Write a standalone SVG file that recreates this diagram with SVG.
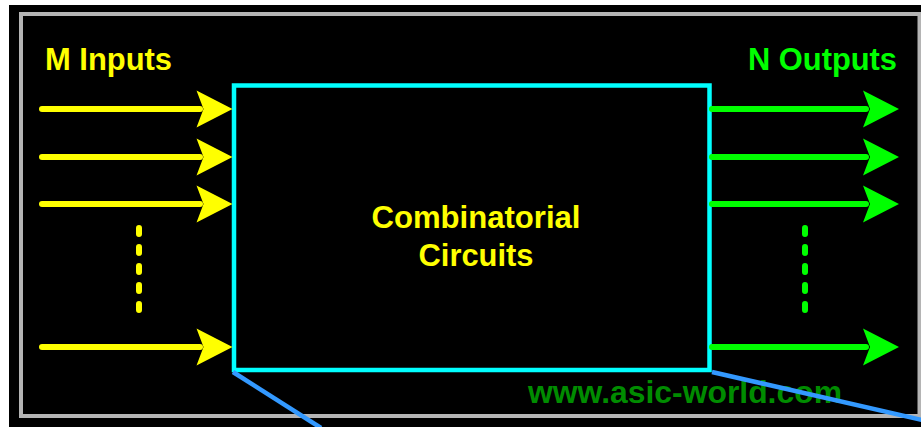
<svg xmlns="http://www.w3.org/2000/svg" xmlns:xlink="http://www.w3.org/1999/xlink" width="921" height="427" viewBox="0 0 921 427">
<style>
.lbl{font-family:"Liberation Sans",Arial,sans-serif;font-weight:bold}
.yl{stroke:#ffff00;stroke-width:6;stroke-linecap:round;fill:none}
.gl{stroke:#00ff00;stroke-width:6;stroke-linecap:round;fill:none}
.yd{stroke:#ffff00;stroke-width:6;stroke-linecap:round;stroke-dasharray:6 13;fill:none}
.gd{stroke:#00ff00;stroke-width:6;stroke-linecap:round;stroke-dasharray:6 13;fill:none}
.blue{stroke:#3399ff;stroke-width:4.5;fill:none}
</style>
<defs>
<path id="head" d="M0,0 L-36,-18.5 L-29,0 L-36,18.5 Z"/>
</defs>
<rect x="0" y="0" width="921" height="427" fill="#ffffff"/>
<rect x="9" y="5" width="912" height="422" fill="#000000"/>
<rect x="21" y="14" width="898.5" height="402" fill="none" stroke="#b4b4b4" stroke-width="4"/>

<g id="inputs-label">
<text class="lbl" x="45" y="70" font-size="31" fill="#ffff00" textLength="127" lengthAdjust="spacingAndGlyphs">M Inputs</text>
</g>
<g id="outputs-label">
<text class="lbl" x="748" y="70" font-size="31" fill="#00ff00" textLength="149" lengthAdjust="spacingAndGlyphs">N Outputs</text>
</g>

<g id="combinatorial-circuits">
<rect x="234" y="85.5" width="475.5" height="284.5" fill="#000000" stroke="#00ffff" stroke-width="4.5"/>
<text class="lbl" x="476" y="228" font-size="31" fill="#ffff00" text-anchor="middle" textLength="209" lengthAdjust="spacingAndGlyphs">Combinatorial</text>
<text class="lbl" x="476" y="266" font-size="31" fill="#ffff00" text-anchor="middle" textLength="115" lengthAdjust="spacingAndGlyphs">Circuits</text>
</g>

<g id="connectors">
<line class="yl" x1="42" y1="109" x2="200" y2="109"/>
<line class="yl" x1="42" y1="157" x2="200" y2="157"/>
<line class="yl" x1="42" y1="204" x2="200" y2="204"/>
<line class="yl" x1="42" y1="347" x2="200" y2="347"/>
<use xlink:href="#head" href="#head" x="232.5" y="109" fill="#ffff00"/>
<use xlink:href="#head" href="#head" x="232.5" y="157" fill="#ffff00"/>
<use xlink:href="#head" href="#head" x="232.5" y="204" fill="#ffff00"/>
<use xlink:href="#head" href="#head" x="232.5" y="347" fill="#ffff00"/>
<line class="yd" x1="139" y1="228" x2="139" y2="310"/>

<line class="gl" x1="712" y1="109" x2="866" y2="109" stroke-linecap="butt"/>
<line class="gl" x1="712" y1="157" x2="866" y2="157" stroke-linecap="butt"/>
<line class="gl" x1="712" y1="204" x2="866" y2="204" stroke-linecap="butt"/>
<line class="gl" x1="712" y1="347" x2="866" y2="347" stroke-linecap="butt"/>
<use xlink:href="#head" href="#head" x="899" y="109" fill="#00ff00"/>
<use xlink:href="#head" href="#head" x="899" y="157" fill="#00ff00"/>
<use xlink:href="#head" href="#head" x="899" y="204" fill="#00ff00"/>
<use xlink:href="#head" href="#head" x="899" y="347" fill="#00ff00"/>
<line class="gd" x1="805" y1="228" x2="805" y2="310"/>
</g>

<g id="watermark">
<text class="lbl" x="528" y="403" font-size="31" fill="#008c00" textLength="314" lengthAdjust="spacingAndGlyphs">www.asic-world.com</text>
</g>

<g id="zoom-lines">
<line class="blue" x1="233" y1="372" x2="321" y2="428"/>
<line class="blue" x1="712" y1="372" x2="922" y2="420"/>
</g>
</svg>
